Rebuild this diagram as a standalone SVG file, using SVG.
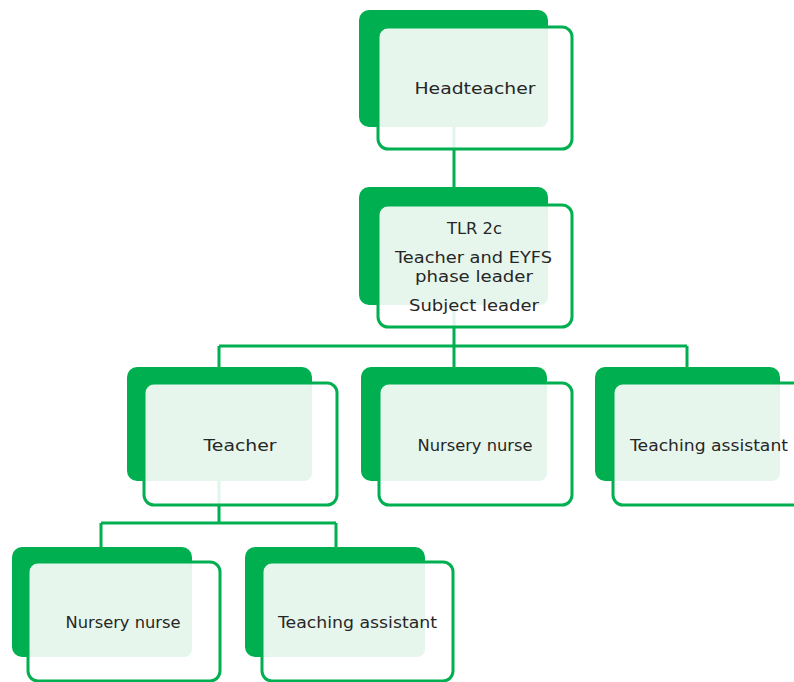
<svg xmlns="http://www.w3.org/2000/svg" width="794" height="682" viewBox="0 0 794 682">
<style>
.solid{fill:#00B050}
.outline{fill:#FFFFFF;fill-opacity:0.88;stroke:#00B050;stroke-width:3}
.light{fill:#E6F6EC}
.lbl{font-family:"DejaVu Sans",sans-serif;font-size:16px;fill:#262626;text-anchor:middle}
.conn{stroke:#00B050;stroke-width:3;fill:none}
</style>
<rect width="794" height="682" fill="#FFFFFF"/>
<g id="connectors">
<path class="conn" d="M454,127 V187"/>
<path class="conn" d="M454,305 V346 M219,346 H687 M219,346 V367 M454,346 V367 M687,346 V367"/>
<path class="conn" d="M219,481 V523 M101,523 H336 M101,523 V547 M336,523 V547"/>
</g>
<g id="node-headteacher">
<rect class="solid" x="359" y="10" width="189" height="117" rx="10"/>
<rect class="outline" x="378" y="27" width="194" height="122" rx="10"/>
<rect class="light" x="380" y="29" width="168" height="98" rx="8"/>
<text class="lbl" x="475" y="94" textLength="121" lengthAdjust="spacingAndGlyphs">Headteacher</text>
</g>
<g id="node-tlr">
<rect class="solid" x="359" y="187" width="189" height="118" rx="10"/>
<rect class="outline" x="378" y="205" width="194" height="122" rx="10"/>
<rect class="light" x="380" y="207" width="168" height="98" rx="8"/>
<text class="lbl" x="474.5" y="234" textLength="55" lengthAdjust="spacingAndGlyphs">TLR 2c</text>
<text class="lbl" x="473.5" y="263" textLength="157" lengthAdjust="spacingAndGlyphs">Teacher and EYFS</text>
<text class="lbl" x="474" y="282" textLength="118" lengthAdjust="spacingAndGlyphs">phase leader</text>
<text class="lbl" x="474" y="311" textLength="130" lengthAdjust="spacingAndGlyphs">Subject leader</text>
</g>
<g id="node-teacher">
<rect class="solid" x="127" y="367" width="185" height="114" rx="10"/>
<rect class="outline" x="144" y="383" width="193" height="122" rx="10"/>
<rect class="light" x="146" y="385" width="166" height="96" rx="8"/>
<text class="lbl" x="240" y="451" textLength="73" lengthAdjust="spacingAndGlyphs">Teacher</text>
</g>
<g id="node-nursery-nurse-1">
<rect class="solid" x="361" y="367" width="186" height="114" rx="10"/>
<rect class="outline" x="379" y="383" width="193" height="122" rx="10"/>
<rect class="light" x="381" y="385" width="166" height="96" rx="8"/>
<text class="lbl" x="475" y="451" textLength="115" lengthAdjust="spacingAndGlyphs">Nursery nurse</text>
</g>
<g id="node-teaching-assistant-1">
<rect class="solid" x="595" y="367" width="185" height="114" rx="10"/>
<rect class="outline" x="613" y="383" width="193" height="122" rx="10"/>
<rect class="light" x="615" y="385" width="165" height="96" rx="8"/>
<text class="lbl" x="709" y="451" textLength="158" lengthAdjust="spacingAndGlyphs">Teaching assistant</text>
</g>
<g id="node-nursery-nurse-2">
<rect class="solid" x="12" y="547" width="180" height="110" rx="10"/>
<rect class="outline" x="28" y="562" width="192" height="119" rx="10"/>
<rect class="light" x="30" y="564" width="162" height="93" rx="8"/>
<text class="lbl" x="123" y="628" textLength="115" lengthAdjust="spacingAndGlyphs">Nursery nurse</text>
</g>
<g id="node-teaching-assistant-2">
<rect class="solid" x="245" y="547" width="180" height="110" rx="10"/>
<rect class="outline" x="262" y="562" width="191" height="119" rx="10"/>
<rect class="light" x="264" y="564" width="161" height="93" rx="8"/>
<text class="lbl" x="357.5" y="628" textLength="159" lengthAdjust="spacingAndGlyphs">Teaching assistant</text>
</g>
</svg>
